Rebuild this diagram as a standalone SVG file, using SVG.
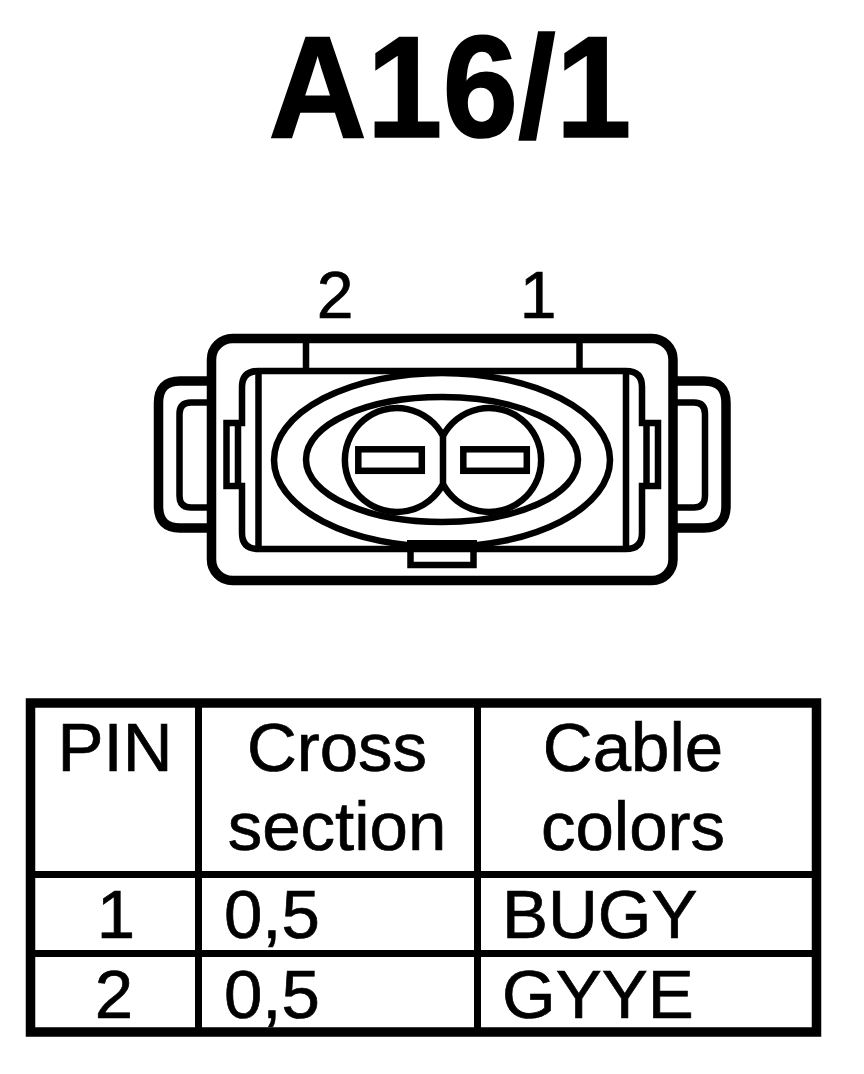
<svg xmlns="http://www.w3.org/2000/svg" width="864" height="1074" viewBox="0 0 864 1074">
<style>
.s{fill:none;stroke:#000;stroke-width:6.500}
.t{stroke-width:9.500}
.g{stroke-width:7}
.l{font-family:"Liberation Sans",Arial,sans-serif;font-size:69px;fill:#000;text-anchor:middle;stroke:#000;stroke-width:.7}
.a{text-anchor:start}
.n{font-size:66px}
.h{font-size:136px;font-weight:bold;stroke-width:1.500}
</style>
<rect width="864" height="1074" fill="#fff"/>
<text id="title" class="l h" transform="translate(450 136.500) scale(1 1.070)">A16/1</text>
<g id="connector-body">
<text class="l n" x="335" y="318">2</text>
<text class="l n" x="538" y="318">1</text>
<path class="s t" d="M211 381H180Q158.500 381 158.500 403V506Q158.500 528 180 528H211"/>
<path class="s" d="M211 402.500H191Q179.500 402.500 179.500 414V496Q179.500 507.500 191 507.500H211"/>
<path class="s t" d="M673 381H704Q726 381 726 403V506Q726 528 704 528H673"/>
<path class="s" d="M673 402.500H694Q705 402.500 705 414V496Q705 507.500 694 507.500H673"/>
<rect class="s t" x="211.500" y="338.500" width="461.500" height="242" rx="21"/>
<path class="s" d="M306 343V371M579.500 343V371"/>
<path class="s" d="M258.500 371H626Q642 371 642 387V423H658V486H642V533Q642 549 626 549H258.500Q242 549 242 533V486H226.500V423H242V387Q242 371 258.500 371Z"/>
<path class="s" d="M258.500 371V549M626 371V549M238 423V486M646.500 423V486"/>
<path d="M407 540H477V552H407Z"/>
<path class="s" d="M410.500 552V565H473.500V552"/>
<ellipse class="s" cx="442" cy="460" rx="168" ry="87"/>
<path class="s" d="M306 459.500C306 424 367 397 442 397C517 397 578 424 578 459.500C578 495 517 522 442 522C367 522 306 495 306 459.500Z"/>
<path class="s" d="M443 436A52 52 0 1 0 443 484ZM443 436A52 52 0 1 1 443 484"/>
<rect class="s" x="358.300" y="449.300" width="63.500" height="21.500"/>
<rect class="s" x="463.300" y="449.300" width="63.500" height="21.500"/>
</g>
<g id="pin-table">
<path class="s t" d="M30.500 703H816.500V1032H30.500Z"/>
<path class="s g" d="M198.500 703V1032M477.500 703V1032M30.500 874.500H816.500M30.500 953.500H816.500"/>
<text class="l" x="115" y="771">PIN</text>
<text class="l" x="337" y="771">Cross</text>
<text class="l" x="337" y="850">section</text>
<text class="l" x="633" y="771">Cable</text>
<text class="l" x="633" y="850">colors</text>
<text class="l" x="116" y="938">1</text>
<text class="l a" x="224" y="938">0,5</text>
<text class="l a" x="502" y="938">BUGY</text>
<text class="l" x="114" y="1018">2</text>
<text class="l a" x="224" y="1018">0,5</text>
<text class="l a" x="502" y="1018">GYYE</text>
</g>
</svg>
